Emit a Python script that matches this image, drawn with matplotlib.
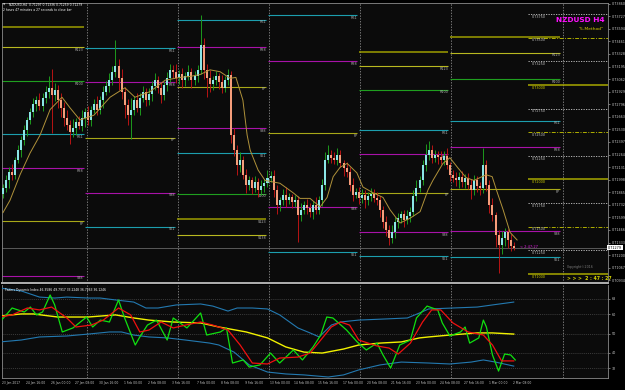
import matplotlib
matplotlib.use("Agg")
import matplotlib.pyplot as plt
import numpy as np
from matplotlib.transforms import blended_transform_factory

plt.rcParams['font.family'] = 'DejaVu Sans'

# NZDUSD H4 bars, 23 Jan 2017 00:00 onwards (bar index 0..168)
first_open = 0.7185
closes = [0.7191, 0.7199, 0.7208, 0.7205, 0.7221, 0.7231, 0.7242, 0.7252, 0.7263, 0.7271,
          0.7280, 0.7284, 0.7278, 0.7286, 0.7293, 0.7297, 0.7289, 0.7295, 0.7284, 0.7276,
          0.7265, 0.7258, 0.7250, 0.7254, 0.7261, 0.7257, 0.7265, 0.7271, 0.7263, 0.7274,
          0.7280, 0.7274, 0.7284, 0.7293, 0.7299, 0.7305, 0.7314, 0.7320, 0.7307, 0.7293,
          0.7279, 0.7268, 0.7274, 0.7284, 0.7276, 0.7286, 0.7293, 0.7284, 0.7290, 0.7299,
          0.7305, 0.7297, 0.7289, 0.7300, 0.7307, 0.7316, 0.7314, 0.7307, 0.7312, 0.7305,
          0.7309, 0.7314, 0.7305, 0.7309, 0.7316, 0.7342, 0.7316, 0.7307, 0.7301, 0.7305,
          0.7309, 0.7303, 0.7297, 0.7305, 0.7311, 0.7247, 0.7231, 0.7215, 0.7221, 0.7205,
          0.7194, 0.7199, 0.7191, 0.7197, 0.7189, 0.7193, 0.7196, 0.7202, 0.7204, 0.7189,
          0.7173, 0.7178, 0.7184, 0.7178, 0.7181, 0.7176, 0.7178, 0.7162, 0.7168, 0.7173,
          0.7170, 0.7166, 0.7173, 0.7168, 0.7178, 0.7194, 0.7221, 0.7226, 0.7223, 0.7221,
          0.7226, 0.7217, 0.7212, 0.7208, 0.7194, 0.7184, 0.7187, 0.7180, 0.7184, 0.7178,
          0.7183, 0.7185, 0.7180, 0.7178, 0.7168, 0.7155, 0.7147, 0.7138, 0.7144, 0.7155,
          0.7159, 0.7163, 0.7157, 0.7161, 0.7166, 0.7183, 0.7191, 0.7199, 0.7215, 0.7226,
          0.7231, 0.7223, 0.7226, 0.7224, 0.7221, 0.7225, 0.7215, 0.7205, 0.7202, 0.7199,
          0.7203, 0.7197, 0.7202, 0.7194, 0.7189, 0.7199, 0.7193, 0.7191, 0.7215, 0.7194,
          0.7173, 0.7162, 0.7141, 0.7131, 0.7138, 0.7144, 0.7136, 0.7130, 0.71279]
# wick lengths in pips above / below the body
wick_up = [4, 6, 5, 8, 3, 5, 4, 6, 3, 5,
           6, 4, 8, 5, 6, 13, 20, 7, 5, 8,
           6, 9, 5, 10, 4, 6, 8, 5, 7, 4,
           5, 8, 4, 6, 5, 8, 6, 28, 7, 10,
           5, 6, 12, 4, 8, 5, 6, 4, 7, 5,
           8, 5, 6, 4, 7, 6, 5, 8, 4, 6,
           5, 7, 4, 6, 5, 32, 8, 6, 9, 5,
           6, 4, 8, 5, 6, 4, 7, 5, 8, 4,
           6, 5, 4, 7, 5, 6, 4, 8, 5, 6,
           5, 4, 6, 8, 5, 4, 6, 5, 7, 4,
           6, 5, 4, 8, 5, 6, 8, 10, 5, 6,
           7, 5, 4, 6, 5, 8, 4, 5, 6, 5,
           4, 6, 5, 7, 5, 4, 6, 5, 8, 5,
           6, 4, 5, 7, 5, 6, 8, 5, 6, 12,
           10, 6, 5, 4, 6, 5, 8, 4, 5, 6,
           5, 6, 4, 5, 7, 6, 5, 4, 18, 6,
           5, 7, 4, 6, 8, 5, 4, 6, 4]
wick_dn = [5, 4, 8, 6, 5, 4, 7, 5, 6, 4,
           5, 8, 4, 6, 5, 7, 40, 6, 8, 10,
           8, 6, 12, 5, 7, 4, 6, 10, 5, 6,
           4, 6, 5, 8, 4, 6, 5, 6, 12, 8,
           14, 10, 25, 6, 5, 8, 4, 6, 5, 7,
           4, 6, 8, 5, 6, 4, 7, 5, 6, 8,
           6, 4, 8, 5, 6, 4, 10, 20, 8, 6,
           5, 7, 6, 4, 5, 8, 6, 10, 7, 5,
           8, 5, 6, 4, 7, 5, 6, 4, 5, 8,
           10, 6, 5, 7, 4, 6, 5, 28, 6, 5,
           7, 6, 8, 4, 5, 6, 5, 4, 6, 5,
           6, 4, 8, 5, 6, 7, 4, 6, 5, 8,
           5, 6, 4, 5, 8, 6, 7, 7, 5, 6,
           6, 5, 7, 4, 6, 5, 6, 4, 5, 6,
           5, 6, 4, 8, 5, 6, 4, 7, 5, 6,
           8, 5, 6, 4, 10, 5, 6, 7, 5, 6,
           8, 6, 12, 30, 10, 8, 9, 6, 2]

# moving average on price
ma_idx = [0, 2.3, 5.6, 8.9, 12.2, 15.5, 19.4, 22.0, 25.3, 29.9,
          35.2, 40.1, 43.4, 48.4, 53.3, 58.2, 61.5, 64.8, 68.1, 71.4,
          74.7, 76.6, 78.9, 80.3, 81.3, 83.9, 86.2, 91.1, 95.4, 97.7,
          101.0, 104.3, 106.6, 108.6, 110.9, 113.2, 116.4, 118.4, 121.7, 125.0,
          127.3, 130.6, 133.9, 137.2, 139.8, 141.4, 144.7, 147.0, 149.7, 152.3,
          154.9, 156.9, 158.9, 160.9, 162.5, 164.5, 166.8, 169.1]
ma_val = [0.7165, 0.7178, 0.7205, 0.7228, 0.7247, 0.7274, 0.7287, 0.7276, 0.7263, 0.7268,
          0.7287, 0.7297, 0.7287, 0.7293, 0.7305, 0.7308, 0.7309, 0.7311, 0.7316, 0.7314,
          0.7307, 0.7308, 0.7284, 0.7247, 0.7231, 0.7210, 0.7199, 0.7196, 0.7186, 0.7180,
          0.7180, 0.7171, 0.7181, 0.7203, 0.7213, 0.7217, 0.7207, 0.7192, 0.7186, 0.7181,
          0.7168, 0.7154, 0.7159, 0.7166, 0.7189, 0.7199, 0.7217, 0.7223, 0.7212, 0.7202,
          0.7199, 0.7202, 0.7205, 0.7203, 0.7187, 0.7168, 0.7144, 0.7136]

# weekly fibonacci pivots, one value per week segment
seg_edges = [-1, 27.5, 57.5, 87.5, 117.5, 147.5, 184.2]
lvl_R138 = [0.7361, None, None, None, 0.7335, 0.7351]
lvl_R123 = [0.7340, None, None, None, 0.7320, 0.7334]
lvl_R100 = [0.7304, None, None, None, 0.7295, 0.7306]
lvl_R61 = [0.7248, 0.7339, 0.7369, 0.7374, 0.7252, 0.7262]
lvl_R38 = [0.7212, 0.7303, 0.7340, 0.7325, 0.7227, 0.7234]
lvl_PP = [0.7156, 0.7244, 0.7298, 0.7249, 0.7186, 0.7190]
lvl_S38 = [0.7098, 0.7186, 0.7254, 0.7171, 0.7144, 0.7145]
lvl_S61 = [None, 0.7150, 0.7228, 0.7123, 0.7119, 0.7118]
lvl_S100 = [None, None, 0.7185, None, None, None]
lvl_S123 = [None, None, 0.7158, None, None, None]
lvl_S138 = [None, None, 0.7141, None, None, None]

round_levels = [0.7375, 0.7350, 0.7325, 0.7300, 0.7275, 0.7250,
                0.7225, 0.7200, 0.7175, 0.7150, 0.7125, 0.7100]
price_ticks = [0.73860, 0.73727, 0.73594, 0.73461, 0.73328, 0.73195, 0.73062, 0.72929,
               0.72796, 0.72663, 0.72530, 0.72397, 0.72264, 0.72131, 0.71998, 0.71865,
               0.71732, 0.71599, 0.71466, 0.71333, 0.71200, 0.71067, 0.70934]
bid = 0.71279

# Traders Dynamic Index
ub_idx = [-1, 6, 12, 17, 21, 28, 32, 37, 43, 47, 51, 57, 65, 69, 74, 77, 82, 87, 91, 97,
          101, 104, 108, 111, 117, 126, 133, 137, 140, 148, 156, 161, 168]
ub_val = [73.7, 72.2, 69.0, 68.5, 69.0, 68.5, 68.5, 67.5, 66.4, 63.3, 63.3, 64.9, 65.4, 64.3,
          61.7, 63.3, 63.3, 62.8, 59.7, 52.9, 50.3, 48.2, 54.4, 56.0, 57.0, 57.6, 58.1, 60.7,
          62.8, 63.3, 63.8, 64.9, 66.4]
lb_idx = [-1, 6, 12, 21, 28, 35, 39, 43, 48, 54, 60, 68, 71, 76, 81, 87, 93, 99, 107, 112,
          117, 124, 131, 140, 147, 154, 158, 162, 168]
lb_val = [45.6, 46.6, 48.2, 48.7, 49.7, 50.8, 50.8, 49.2, 48.2, 47.7, 46.6, 45.0, 44.0, 40.3,
          33.6, 29.9, 28.9, 28.4, 27.3, 28.4, 31.0, 33.6, 35.1, 34.6, 34.1, 35.1, 36.2, 35.1, 33.0]
base_idx = [-1, 6, 10, 18, 28, 37, 43, 48, 56, 65, 71, 80, 87, 93, 99, 105, 112, 117, 124,
            131, 137, 140, 147, 156, 161, 168]
base_val = [59.1, 60.2, 60.2, 58.6, 58.6, 59.7, 58.1, 57.0, 56.0, 55.5, 53.4, 50.8, 47.7,
            43.0, 40.3, 39.8, 41.9, 44.0, 45.0, 45.6, 47.7, 48.2, 49.2, 50.3, 50.3, 49.7]
sig_idx = [-1, 3, 8, 12, 16, 21, 24, 29, 33, 38, 42, 45, 48, 52, 56, 60, 65, 69, 74, 78,
           82, 87, 91, 97, 101, 104, 108, 111, 114, 117, 123, 127, 130, 134, 138, 141, 144,
           148, 153, 158, 161, 164, 168]
sig_val = [58.6, 59.7, 63.3, 62.3, 63.8, 58.1, 53.4, 54.4, 57.0, 63.3, 59.7, 50.8, 51.8,
           56.0, 52.9, 54.4, 56.0, 54.4, 51.8, 44.0, 34.6, 34.1, 37.2, 37.7, 39.8, 45.6, 53.4,
           56.0, 54.4, 46.6, 43.5, 42.4, 39.3, 45.0, 56.0, 62.3, 62.3, 55.5, 50.8, 49.2, 44.0,
           35.7, 35.7]
rsi_idx = [-1, 3, 7, 9, 11, 13, 15.5, 17, 19.5, 23, 27.5, 29.5, 32, 35, 38, 40, 43.5, 45,
           47.5, 50.5, 54, 56, 60.5, 65, 67, 71.5, 73.5, 75.5, 79, 81, 84.5, 88, 91, 95.5,
           98.5, 102, 104.5, 106.5, 108.5, 113, 116.5, 119.5, 123, 125, 127.5, 130.5, 134,
           136, 139.5, 143, 144.5, 147, 150.5, 152, 153.5, 156.5, 158, 159, 161, 163, 165,
           167, 168.5]
rsi_val = [56.0, 63.3, 61.2, 63.8, 59.7, 61.2, 70.1, 64.9, 50.8, 52.9, 58.6, 53.4, 57.0,
           56.0, 67.5, 58.1, 44.0, 48.2, 54.4, 57.0, 46.6, 58.1, 52.9, 60.7, 49.2, 50.8, 52.9,
           34.6, 36.2, 32.5, 33.6, 39.8, 34.6, 41.4, 36.2, 43.0, 49.2, 58.6, 58.1, 51.8, 45.6,
           41.4, 45.0, 38.8, 32.0, 44.0, 46.6, 58.1, 64.3, 62.3, 55.5, 48.7, 50.8, 53.4, 45.0,
           47.7, 57.0, 53.4, 38.8, 30.4, 39.3, 38.8, 36.2]
tdi_levels = [68, 60, 50, 40, 32]

time_labels = ["23 Jan 2017", "24 Jan 16:00", "26 Jan 00:00", "27 Jan 08:00", "30 Jan 16:00",
               "1 Feb 00:00", "2 Feb 08:00", "3 Feb 16:00", "7 Feb 00:00", "8 Feb 08:00",
               "9 Feb 16:00", "13 Feb 00:00", "14 Feb 08:00", "15 Feb 16:00", "17 Feb 00:00",
               "20 Feb 08:00", "21 Feb 16:00", "23 Feb 00:00", "24 Feb 08:00", "27 Feb 16:00",
               "1 Mar 00:00", "2 Mar 08:00"]

W, H = 625.0, 390.0
BG = "#0b0b0b"
GRAY = "#c8c8c8"


def fx(px):
    return px / W


def fy(py):
    return 1 - py / H


fig = plt.figure(figsize=(6.25, 3.9), dpi=100, facecolor="black")
ax = fig.add_axes([fx(2), fy(283), 606 / W, 280 / H], facecolor=BG)
ax2 = fig.add_axes([fx(2), fy(378), 606 / W, 93 / H], facecolor=BG)
XMIN, XMAX = -0.33, 199.0

for a in (ax, ax2):
    a.set_xlim(XMIN, XMAX)
    a.set_xticks([])
    a.yaxis.tick_right()
    a.tick_params(axis='y', length=1.5, width=0.4, colors=GRAY, labelsize=2.4, pad=1)
    for s in a.spines.values():
        s.set_color("#8a8a8a")
        s.set_linewidth(0.6)
    # week separators
    for e in seg_edges[1:]:
        a.axvline(e, color="#a0a0a0", lw=0.5, ls=(0, (2, 2)), zorder=1)
ax.spines['bottom'].set_color("#b0b0b0")
ax.spines['bottom'].set_linewidth(1.4)
ax2.spines['top'].set_visible(False)

ax.set_ylim(0.70905, 0.73867)
ax.set_yticks(price_ticks)
ax.set_yticklabels(["%.5f" % p for p in price_ticks])

# pivots
pivot_rows = [("R138", lvl_R138, "#9c9c00", 1.1), ("R123", lvl_R123, "#b8b820", 0.8),
              ("R100", lvl_R100, "#1f9f1f", 0.8), ("R61", lvl_R61, "#1c9eae", 0.8),
              ("R38", lvl_R38, "#a812a8", 0.8), ("PP", lvl_PP, "#a8a818", 0.8),
              ("S38", lvl_S38, "#a812a8", 0.8), ("S61", lvl_S61, "#1c9eae", 0.8),
              ("S100", lvl_S100, "#1f9f1f", 0.8), ("S123", lvl_S123, "#9c9c00", 1.1),
              ("S138", lvl_S138, "#b8b820", 0.8)]
for name, vals, col, lw in pivot_rows:
    for k, v in enumerate(vals):
        if v is None:
            continue
        x0, x1 = seg_edges[k] - 0.4, seg_edges[k + 1] - 1.0
        ax.hlines(v, x0, x1, color=col, lw=lw, zorder=1)
        if name != "R138":
            ax.text(x1, v - 0.00006, name, ha='right', va='top', fontsize=2.4,
                    color="#b0b0b0", zorder=2)

# round-number levels on the right
for p in round_levels:
    mills = int(round(p * 10000)) % 100
    if mills == 0:
        ls, col, lw, tcol = '-', "#a8a800", 1.1, "#d0d000"
    elif mills == 50:
        ls, col, lw, tcol = (0, (4, 1.5, 1, 1.5)), "#b0b000", 0.7, "#c0c0c0"
    else:
        ls, col, lw, tcol = (0, (1.5, 1.5)), "#c8c8c8", 0.6, "#c0c0c0"
    ax.hlines(p, 172.7, XMAX, color=col, lw=lw, ls=ls, zorder=1)
    ax.text(173.8, p - 0.00007, "%.5f" % p, ha='left', va='top', fontsize=2.4,
            color=tcol, zorder=2)

# bid line
ax.axhline(bid, color="#5a5a5a", lw=0.7, zorder=1)

# candles
c = np.array(closes)
o = np.r_[first_open, c[:-1]]
x = np.arange(len(c))
hi = np.maximum(o, c) + np.array(wick_up) / 1e4
lo = np.minimum(o, c) - np.array(wick_dn) / 1e4
up = c >= o
ax.vlines(x[up], lo[up], hi[up], color="#1d9a1d", lw=0.7, zorder=3)
ax.vlines(x[~up], lo[~up], hi[~up], color="#b81414", lw=0.7, zorder=3)
body = np.maximum(np.abs(c - o), 0.00005)
ax.bar(x[up], body[up], bottom=o[up], width=0.66, color="#8ae6e6", lw=0, zorder=4)
ax.bar(x[~up], body[~up], bottom=c[~up], width=0.66, color="#f59d7a", lw=0, zorder=4)

ax.plot(ma_idx, ma_val, color="#b0923a", lw=0.7, zorder=5)

# texts on the price panel
fig.text(fx(3), fy(4.5), "\u25bc", color=GRAY, fontsize=2.2, va='center')
fig.text(fx(9), fy(4.5), "NZDUSD,H4  0.71297 0.71336 0.71259 0.71279", color="white",
         fontsize=2.2, va='center')
fig.text(fx(3), fy(10), "2 hours 47 minutes a 27 seconds to close bar", color="white",
         fontsize=2.2, va='center')
fig.text(fx(605), fy(20), "NZDUSD H4", color="#ff10ff", fontsize=5.3, fontweight='bold',
         ha='right', va='center')
fig.text(fx(604), fy(29.5), "\"5-Method\"", color="#d8d000", fontsize=3.2, ha='right',
         va='center')
fig.text(fx(520), fy(246.5), "< 2:47:27", color="#e020e0", fontsize=2.6, va='center')
fig.text(fx(567), fy(267), "Copyright\u00a92016", color="#7a7a7a", fontsize=2.3, va='center')
fig.text(fx(567), fy(279), "> > >  2 : 47 : 27", color="#d8d800", fontsize=3.3,
         fontweight='bold', va='center')
ax.text(1.0, bid, "%.5f" % bid, transform=blended_transform_factory(ax.transAxes, ax.transData),
        ha='left', va='center', fontsize=2.4, color="black", zorder=6, clip_on=False,
        bbox=dict(boxstyle="square,pad=0.25", fc="white", ec="white", lw=0))

# TDI panel
ax2.set_ylim(26.79, 75.30)
ax2.set_yticks(tdi_levels)
ax2.set_yticklabels([str(v) for v in tdi_levels])
for v in tdi_levels:
    ax2.axhline(v, color="#4c4c4c", lw=0.5, ls=(0, (1.5, 1.5)), zorder=1)
ax2.plot(ub_idx, ub_val, color="#2379b0", lw=0.8, zorder=3)
ax2.plot(lb_idx, lb_val, color="#2379b0", lw=0.8, zorder=3)
ax2.plot(base_idx, base_val, color="#f2f200", lw=1.0, zorder=4)
ax2.plot(rsi_idx, rsi_val, color="#10e010", lw=0.9, zorder=5)
ax2.plot(sig_idx, sig_val, color="#f01010", lw=0.9, zorder=6)
ax2.text(0.004, 0.97, "Traders Dynamic Index 46.3586 49.7917 33.2248 36.7263 36.1246",
         transform=ax2.transAxes, color="white", fontsize=2.2, va='top')

tr = blended_transform_factory(ax2.transData, ax2.transAxes)
for k, lab in enumerate(time_labels):
    ax2.text(k * 8 - 0.3, -0.035, lab, transform=tr, ha='left', va='top', fontsize=2.2,
             color=GRAY, clip_on=False)

plt.savefig("out.png", dpi=100, facecolor="black")
